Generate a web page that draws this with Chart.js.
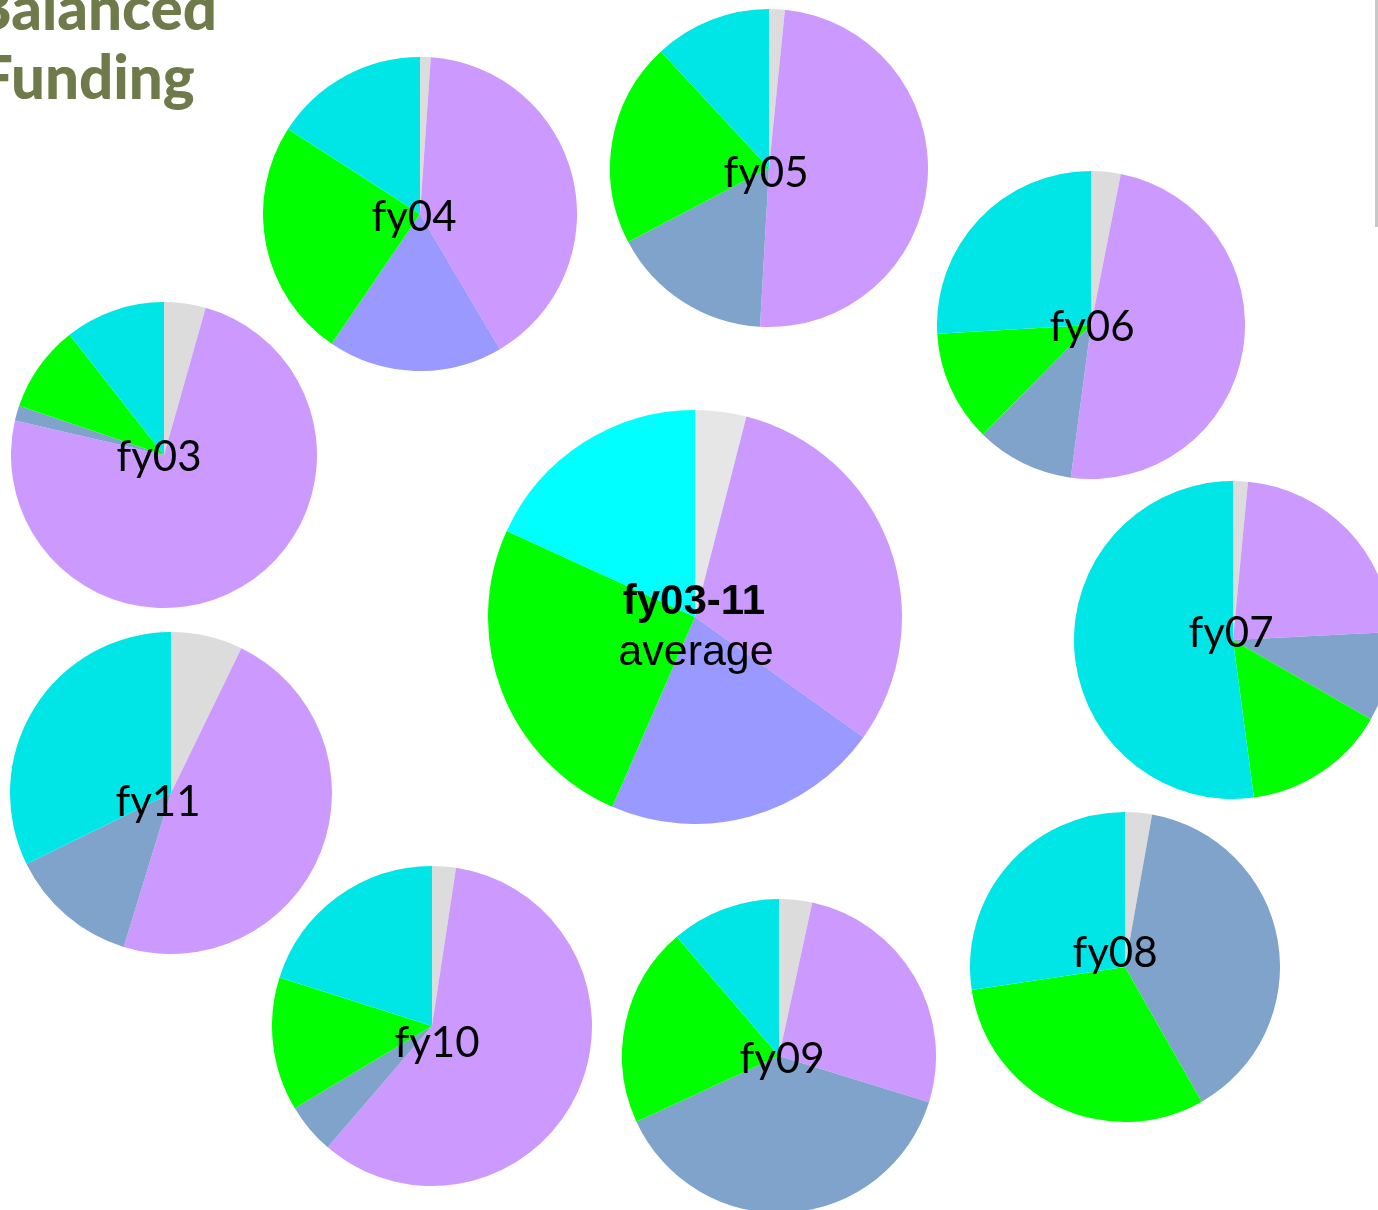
<!DOCTYPE html>
<html>
<head>
<meta charset="utf-8">
<title>Balanced Funding</title>
<script src="https://cdn.jsdelivr.net/npm/chart.js@4.4.0/dist/chart.umd.min.js"></script>
<style>
  html, body { margin: 0; padding: 0; width: 1378px; height: 1210px; overflow: hidden; background: #fff; }
  .pie { position: absolute; }
  .lbl { position: absolute; white-space: nowrap; color: #000; line-height: 1; }
  .yr { font-family: Lato, "Open Sans", sans-serif; font-size: 42px; }
  .avg { font-family: "Liberation Sans", Arial, sans-serif; }
  .title { position: absolute; font-family: Lato, "Open Sans", sans-serif; font-weight: 900; font-size: 60px; color: #6e7a4a; line-height: 1; }
  #bar { position: absolute; left: 1375px; top: 0; width: 3px; height: 227px; background: #c8c8c8; }
</style>
</head>
<body>

<div class="title" style="left:-28px; top:-23px;">Balanced</div>
<div class="title" style="left:-21px; top:46px;">Funding</div>
<div id="bar"></div>

<script>
// slice order, clockwise from 12 o'clock
var categories = ['Other', 'Source A', 'Source B', 'Source C', 'Source D', 'Source E'];
var pieNames = ['fy03', 'fy04', 'fy05', 'fy06', 'fy07', 'fy08', 'fy09', 'fy10', 'fy11', 'fy03-11'];

// share of funding, percent
var fy03 = [4.4, 74.3, 0, 1.6, 9.2, 10.6];
var fy04 = [1.1, 40.4, 18.0, 0, 24.6, 15.9];
var fy05 = [1.6, 49.3, 0, 16.4, 20.8, 11.9];
var fy06 = [3.1, 49.0, 0, 10.3, 11.7, 25.9];
var fy07 = [1.5, 22.7, 0, 9.1, 14.6, 52.1];
var fy08 = [2.8, 0, 0, 39.0, 30.9, 27.4];
var fy09 = [3.4, 26.4, 0, 38.4, 20.6, 11.3];
var fy10 = [2.4, 58.9, 0, 5.1, 13.5, 20.1];
var fy11 = [7.2, 47.6, 0, 13.0, 0, 32.3];
var fy0311 = [4.0, 30.9, 21.7, 0, 25.3, 18.2];

var series = [fy03, fy04, fy05, fy06, fy07, fy08, fy09, fy10, fy11, fy0311];

var yearColors = ['#dcdcdc', '#cc99ff', '#9999ff', '#80a3cc', '#00ff00', '#00e6e6'];
var avgColors = ['#e6e6e6', '#cc99ff', '#9999ff', '#80a3cc', '#00ff00', '#00ffff'];

// where each pie sits on the page: centre x, centre y, radius
var layout = [
  [163.5, 454.5, 153],
  [420, 214, 157],
  [769, 168, 159],
  [1090.5, 324.5, 154],
  [1233, 640, 159],
  [1124.5, 967, 155],
  [779, 1056, 157],
  [432, 1025.5, 160],
  [171, 793, 161],
  [694.5, 617, 207]
];

// label text centres
var labelPos = [
  [159, 456], [414, 216], [766, 172], [1092, 326], [1231, 632],
  [1115, 952], [782, 1058], [437, 1042], [158, 801]
];

function makePie(i) {
  var cx = layout[i][0], cy = layout[i][1], r = layout[i][2];
  var size = Math.round(r * 2);
  var canvas = document.createElement('canvas');
  canvas.className = 'pie';
  canvas.width = size;
  canvas.height = size;
  canvas.style.left = (cx - size / 2) + 'px';
  canvas.style.top = (cy - size / 2) + 'px';
  canvas.style.width = size + 'px';
  canvas.style.height = size + 'px';
  document.body.appendChild(canvas);

  new Chart(canvas.getContext('2d'), {
    type: 'pie',
    data: {
      labels: categories,
      datasets: [{
        data: series[i],
        backgroundColor: i === 9 ? avgColors : yearColors,
        borderWidth: 0
      }]
    },
    options: {
      responsive: false,
      animation: false,
      layout: { padding: 0 },
      plugins: { legend: { display: false }, tooltip: { enabled: false } }
    }
  });
}

function makeLabel(text, x, y, cls, extra) {
  var el = document.createElement('div');
  el.className = 'lbl ' + cls;
  el.innerHTML = text;
  el.style.left = x + 'px';
  el.style.top = y + 'px';
  el.style.transform = 'translate(-50%, -50%)';
  if (extra) el.style.cssText += extra;
  document.body.appendChild(el);
}

for (var i = 0; i < series.length; i++) {
  makePie(i);
}
for (var j = 0; j < labelPos.length; j++) {
  makeLabel(pieNames[j], labelPos[j][0], labelPos[j][1] - 1, 'yr');
}
makeLabel(pieNames[9], 694, 600, 'avg', 'font-size:42px;font-weight:bold;');
makeLabel('average', 696, 650, 'avg', 'font-size:43px;');
</script>
</body>
</html>
